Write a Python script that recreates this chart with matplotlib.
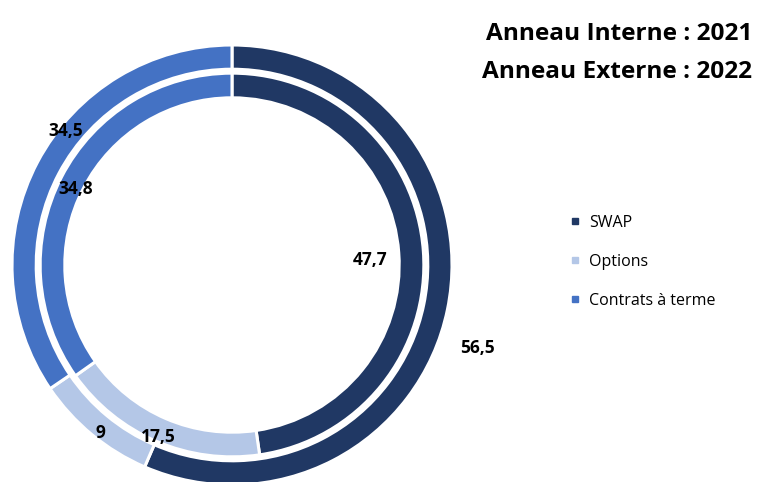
import numpy as np
import matplotlib.pyplot as plt
from matplotlib.lines import Line2D

categories = ['SWAP', 'Options', 'Contrats à terme']
values_2021 = [47.7, 17.5, 34.8]   # anneau interne
values_2022 = [56.5, 9, 34.5]      # anneau externe
colors = ['#203864', '#b4c7e7', '#4472c4']

plt.rcParams['font.family'] = ['Open Sans', 'DejaVu Sans']


def fmt(v):
    return f'{v:g}'.replace('.', ',')


def mid_angles(values):
    # angles (deg) of slice centres, start at 90, clockwise
    total = sum(values)
    cum = np.cumsum([0] + list(values))
    return [90 - 360 * (cum[i] + cum[i + 1]) / 2 / total for i in range(len(values))]


def main():
    fig = plt.figure(figsize=(7.62, 4.82), dpi=100)
    W, H = 762, 482
    cx, cy, R = 232, 265, 220
    ax = fig.add_axes([(cx - R) / W, (H - cy - R) / H, 2 * R / W, 2 * R / H])

    wedge_kw = dict(edgecolor='white', linewidth=2.2)
    ax.pie(values_2022, colors=colors, startangle=90, counterclock=False,
           radius=1.0, wedgeprops=dict(width=0.11, **wedge_kw))
    ax.pie(values_2021, colors=colors, startangle=90, counterclock=False,
           radius=0.872, wedgeprops=dict(width=0.112, **wedge_kw))
    ax.set_xlim(-1, 1)
    ax.set_ylim(-1, 1)
    ax.set_aspect('equal')
    ax.axis('off')

    # label radii (fraction of outer radius), Excel-like placement
    r_out = [1.18, 0.97, 0.97]
    r_in = [0.63, 0.85, 0.79]
    for vals, radii, shift in [(values_2022, r_out, [-7, 1.5, -11]),
                               (values_2021, r_in, [-2, 0, 1.5])]:
        for v, a, r, s in zip(vals, mid_angles(vals), radii, shift):
            t = np.deg2rad(a + s)
            ax.text(r * np.cos(t), r * np.sin(t), fmt(v), ha='center', va='center',
                    fontsize=12.5, fontweight='bold', color='black', clip_on=False)

    fig.text(0.987, 0.93, 'Anneau Interne : 2021', ha='right', va='center',
             fontsize=17.6, fontweight='bold')
    fig.text(0.987, 0.85, 'Anneau Externe : 2022', ha='right', va='center',
             fontsize=17.6, fontweight='bold')

    handles = [Line2D([], [], marker='s', linestyle='', markersize=4.5, color=c)
               for c in colors]
    fig.legend(handles, categories, loc='center left', bbox_to_anchor=(0.729, 0.457),
               frameon=False, fontsize=11.5, labelspacing=1.45, handlelength=0.6,
               handletextpad=0.6)

    fig.savefig('out.png', dpi=100)


if __name__ == '__main__':
    main()
